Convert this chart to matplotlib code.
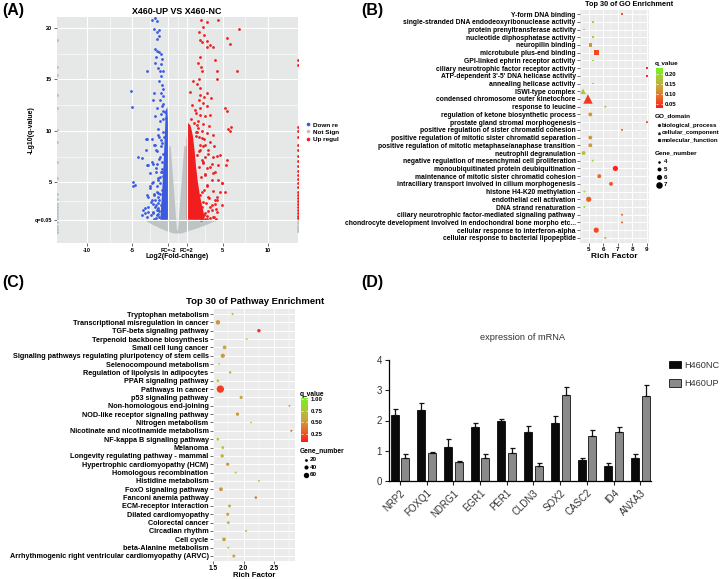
import numpy as np
import matplotlib
matplotlib.use('Agg')
import matplotlib.pyplot as plt
from matplotlib.colors import LinearSegmentedColormap, Normalize
from matplotlib.colorbar import ColorbarBase
from matplotlib.lines import Line2D

plt.rcParams['font.family'] = ['Liberation Sans', 'DejaVu Sans']

# ---------------- (A) volcano data ----------------
down_x = [-2.78, -2.49, -2.30, -2.60, -2.30, -2.01, -2.08, -2.23, -2.49, -2.30, -2.01, -1.86, -2.38, -1.75,
          -2.49, -1.79, -2.19, -1.93, -3.41, -1.64, -1.86, -2.01, -1.71, -1.64, -2.60, -5.17, -1.82, -1.57,
          -2.74, -1.93, -4.99, -1.71, -2.30, -1.57, -1.86, -2.49, -1.57, -1.93, -2.12, -3.41, -2.01, -3.48,
          -4.33, -3.96, -2.30, -3.41, -2.74, -2.01, -4.88, -4.70, -3.04, -2.38, -3.85, -3.59, -3.33, -2.85,
          -2.60, -3.22, -2.49, -2.30, -2.74, -3.04, -2.12, -2.67, -2.96, -2.30, -2.01, -2.23, -2.45, -2.67,
          -3.22, -2.12, -1.93, -1.75, -2.30, -1.86, -2.49, -1.64, -1.79,
          -1.6, -1.8, -2.0, -1.5, -1.7, -1.9, -1.6, -1.4, -1.8, -1.55, -1.7, -1.45, -2.1, -2.3, -1.95,
          -1.25, -1.4, -1.6, -2.2, -2.4, -2.6, -2.0, -1.7, -2.15,
          -3.51, -2.85, -2.56, -2.38, -2.19, -3.22, -2.78, -2.41, -1.93, -1.75, -2.19, -2.78, -3.04, -2.56,
          -3.40, -2.12, -2.89, -2.38, -3.60, -3.22, -2.67, -2.12, -3.96, -1.75, -4.90]
down_y = [20.8, 21.0, 20.7, 19.9, 19.6, 19.8, 19.2, 18.9, 18.0, 17.8, 17.7, 17.5, 17.2, 17.0,
          16.6, 16.5, 16.1, 15.8, 15.8, 15.8, 15.3, 14.8, 14.5, 14.1, 13.7, 13.9, 13.7, 13.4,
          13.0, 13.0, 12.3, 12.4, 12.2, 12.6, 11.6, 11.4, 11.9, 11.0, 10.2, 9.2, 9.4, 8.1,
          7.5, 7.4, 8.0, 6.7, 6.8, 7.3, 5.0, 4.7, 5.9, 6.0, 2.3, 2.0, 1.6, 3.3,
          3.8, 3.6, 2.6, 4.1, 5.0, 4.6, 5.2, 2.1, 1.8, 1.8, 3.3, 4.6, 3.3, 2.9,
          2.6, 2.5, 5.5, 6.3, 6.8, 8.5, 8.6, 9.9, 9.1,
          2.0, 2.8, 1.6, 3.5, 4.3, 3.9, 5.6, 6.2, 6.0, 7.8, 8.8, 9.4, 1.9, 2.3, 4.9,
          11.3, 11.8, 11.2, 3.0, 1.5, 1.45, 2.2, 7.0, 4.0,
          9.2, 9.2, 8.6, 8.1, 9.6, 6.7, 7.0, 6.35, 7.5, 6.0, 5.4, 4.9, 4.4, 3.9,
          3.8, 3.6, 3.1, 2.8, 2.5, 2.1, 2.0, 2.3, 1.8, 1.8, 4.6]

up_x = [2.56, 3.22, 4.51, 6.83, 2.85, 2.41, 2.93, 2.49, 2.67, 3.30, 3.59, 3.89, 3.22, 5.50, 5.80, 4.14,
        2.49, 2.23, 2.56, 2.71, 4.33, 6.54, 4.40, 2.41, 2.19, 2.49, 3.22, 2.49, 2.93, 3.67, 2.41, 2.78,
        3.30, 2.49, 5.25, 5.43, 2.04, 2.49, 3.04, 3.59, 2.30, 2.85, 2.12, 3.48, 5.87, 5.80, 2.67, 2.04,
        3.22, 3.96, 2.41, 2.93, 3.59, 4.70, 5.43, 5.35, 4.33, 3.41, 4.03, 3.04, 3.78, 4.88, 4.51, 3.96,
        3.22, 2.67, 2.41, 2.85,
        2.3, 2.7, 2.9, 3.1, 2.5, 2.9, 3.3, 2.6, 3.0, 2.4, 2.8, 2.2, 2.5, 2.0, 2.3, 1.8, 1.5, 1.9,
        3.5, 3.8, 3.4, 3.9, 4.2, 4.4, 2.0, 1.6, 1.4, 1.7,
        4.88, 4.69, 4.33, 4.14, 3.78, 3.22, 2.74, 4.3, 4.0, 3.6, 3.3, 3.0, 2.6,
        2.12, 2.67, 3.04, 2.49, 3.41, 3.96, 2.85, 3.59, 4.14, 3.04, 3.78, 4.51, 3.22, 3.96, 2.67, 3.41,
        2.85, 4.14, 3.59, 2.30, 3.04, 1.93, 4.33, 4.88, 5.25, 5.62]
up_y = [20.8, 20.6, 20.8, 19.9, 20.1, 19.6, 19.3, 18.8, 18.6, 18.7, 18.3, 18.2, 18.2, 19.0, 18.4, 16.9,
        17.2, 16.6, 16.2, 15.8, 15.8, 15.8, 15.0, 15.0, 14.6, 14.2, 13.7, 13.5, 13.3, 13.2, 13.0, 12.7,
        12.4, 12.2, 12.2, 11.9, 11.7, 11.5, 11.4, 11.5, 11.0, 10.7, 10.6, 10.5, 10.4, 10.0, 10.0, 9.9,
        9.8, 9.6, 9.4, 9.2, 8.9, 7.7, 7.2, 6.7, 7.6, 8.1, 8.5, 7.5, 6.8, 4.9, 5.2, 5.9,
        6.4, 7.2, 8.0, 8.5,
        2.0, 2.6, 1.8, 3.0, 3.8, 4.3, 4.6, 5.5, 5.8, 6.5, 6.9, 7.7, 8.6, 9.5, 10.3, 10.8, 11.2, 12.0,
        3.5, 2.8, 2.2, 1.6, 2.4, 3.3, 1.5, 12.5, 13.8, 14.8,
        4.9, 4.1, 3.6, 2.9, 2.3, 1.7, 1.4, 1.45, 1.6, 1.5, 1.45, 1.4, 1.35,
        9.9, 9.3, 8.6, 8.1, 7.8, 7.5, 7.0, 6.5, 6.0, 5.7, 5.2, 6.7, 4.7, 4.2, 4.1, 3.6,
        3.1, 3.3, 2.6, 2.3, 2.0, 1.7, 2.1, 2.8, 4.1, 10.2]

# genes with infinite fold change, pinned to the panel edges
edge_up_y = [16.9, 16.4, 10.4, 10.0, 9.4, 8.6, 8.1, 7.6, 7.1, 6.6, 6.1, 5.7, 5.3, 4.9, 4.5, 4.1,
             3.8, 3.5, 3.2, 2.9, 2.6, 2.3, 2.0, 1.7, 1.5]
edge_ns_right_y = [1.2, 1.0, 0.8, 0.6, 0.4, 0.3]
edge_ns_left_y = [18.8, 16.2, 15.4, 13.5, 12.2, 10.1, 8.9, 7.0, 5.4, 3.9, 3.4, 2.9, 2.6, 2.3,
                  2.0, 1.7, 1.4, 1.1, 0.8, 0.5, 0.2]

# dense clouds (outlines)
ns_cloud_x = [-1.05, -1.05, -3.6, -2.8, -2.0, -1.2, -0.4, 0.4, 1.2, 2.3, 3.3, 4.4, 1.05, 1.05,
              0.75, 0.06, -0.06, -0.75]
ns_cloud_y = [8.5, 1.3, 1.3, 0.9, 0.55, 0.25, 0.02, 0.02, 0.25, 0.55, 0.9, 1.3, 1.3, 8.5,
              8.5, 0.35, 0.35, 8.5]
down_cloud_x = [-1.05, -1.05, -1.12, -1.3, -1.4, -1.55, -1.7, -1.9]
down_cloud_y = [1.35, 10.8, 12.3, 12.0, 9.5, 6.5, 4.0, 1.35]
up_cloud_x = [1.02, 1.02, 1.15, 1.45, 1.7, 1.9, 2.05, 2.25, 2.5, 2.8, 3.0, 2.9]
up_cloud_y = [1.35, 9.2, 10.8, 10.5, 9.5, 8.0, 6.5, 5.0, 3.6, 2.4, 1.6, 1.35]

# ---------------- (B) GO enrichment ----------------
go_terms = ['Y-form DNA binding', 'single-stranded DNA endodeoxyribonuclease activity',
            'protein prenyltransferase activity', 'nucleotide diphosphatase activity',
            'neuropilin binding', 'microtubule plus-end binding', 'GPI-linked ephrin receptor activity',
            'ciliary neurotrophic factor receptor activity', "ATP-dependent 3'-5' DNA helicase activity",
            'annealing helicase activity', 'ISWI-type complex', 'condensed chromosome outer kinetochore',
            'response to leucine', 'regulation of ketone biosynthetic process',
            'prostate gland stromal morphogenesis', 'positive regulation of sister chromatid cohesion',
            'positive regulation of mitotic sister chromatid separation',
            'positive regulation of mitotic metaphase/anaphase transition', 'neutrophil degranulation',
            'negative regulation of mesenchymal cell proliferation',
            'monoubiquitinated protein deubiquitination', 'maintenance of mitotic sister chromatid cohesion',
            'intraciliary transport involved in cilium morphogenesis', 'histone H4-K20 methylation',
            'endothelial cell activation', 'DNA strand renaturation',
            'ciliary neurotrophic factor-mediated signaling pathway',
            'chondrocyte development involved in endochondral bone morpho etc...',
            'cellular response to interferon-alpha', 'cellular response to bacterial lipopeptide']
go_rich = [7.28, 5.25, 4.68, 5.25, 5.09, 5.5, 5.25, 9.0, 9.0, 5.25, 4.59, 4.93, 6.13, 5.09, 9.0,
           7.28, 5.09, 5.09, 4.63, 5.25, 6.82, 5.71, 6.52, 4.68, 4.98, 4.68, 7.28, 7.28, 5.5, 6.13]
go_q = [0.07, 0.19, 0.22, 0.19, 0.12, 0.06, 0.19, 0.04, 0.04, 0.19, 0.18, 0.05, 0.15, 0.12, 0.04,
        0.07, 0.12, 0.12, 0.17, 0.2, 0.035, 0.08, 0.07, 0.22, 0.075, 0.22, 0.08, 0.08, 0.06, 0.13]
go_genes = [3, 3, 3, 3, 5, 6, 3, 3, 3, 3, 5, 7, 3, 5, 3, 3, 5, 5, 5, 3, 6, 5, 5, 3, 6, 3, 3, 3, 6, 3]
go_domain = ['molecular_function'] * 10 + ['cellular_component'] * 2 + ['biological_process'] * 18

# ---------------- (C) KEGG pathway enrichment ----------------
kegg_terms = ['Tryptophan metabolism', 'Transcriptional misregulation in cancer', 'TGF-beta signaling pathway',
              'Terpenoid backbone biosynthesis', 'Small cell lung cancer',
              'Signaling pathways regulating pluripotency of stem cells', 'Selenocompound metabolism',
              'Regulation of lipolysis in adipocytes', 'PPAR signaling pathway', 'Pathways in cancer',
              'p53 signaling pathway', 'Non-homologous end-joining', 'NOD-like receptor signaling pathway',
              'Nitrogen metabolism', 'Nicotinate and nicotinamide metabolism', 'NF-kappa B signaling pathway',
              'Melanoma', 'Longevity regulating pathway - mammal', 'Hypertrophic cardiomyopathy (HCM)',
              'Homologous recombination', 'Histidine metabolism', 'FoxO signaling pathway',
              'Fanconi anemia pathway', 'ECM-receptor interaction', 'Dilated cardiomyopathy',
              'Colorectal cancer', 'Circadian rhythm', 'Cell cycle', 'beta-Alanine metabolism',
              'Arrhythmogenic right ventricular cardiomyopathy (ARVC)']
kegg_rich = [1.82, 1.58, 2.25, 2.05, 1.69, 1.66, 1.6, 1.78, 1.58, 1.62, 1.96, 2.75, 1.9, 2.12, 2.78,
             1.58, 1.66, 1.65, 1.74, 1.87, 2.25, 1.63, 2.2, 1.77, 1.74, 1.75, 2.04, 1.68, 1.75, 1.84]
kegg_q = [0.9, 0.5, 0.15, 0.85, 0.6, 0.52, 0.95, 0.75, 0.85, 0.2, 0.55, 0.5, 0.5, 0.9, 0.35,
          0.85, 0.75, 0.65, 0.5, 0.85, 0.75, 0.5, 0.35, 0.62, 0.58, 0.7, 0.78, 0.55, 0.85, 0.55]
kegg_genes = [10, 45, 30, 6, 35, 42, 3, 15, 18, 90, 25, 5, 27, 4, 8, 20, 20, 28, 26, 9, 6, 35, 16,
              22, 25, 20, 10, 35, 8, 22]

# ---------------- (D) qPCR ----------------
genes = ['NRP2', 'FOXQ1', 'NDRG1', 'EGR1', 'PER1', 'CLDN3', 'SOX2', 'CASC2', 'ID4', 'ANXA3']
nc_mean = [2.18, 2.34, 1.11, 1.80, 1.99, 1.63, 1.91, 0.69, 0.50, 0.75]
nc_err = [0.19, 0.24, 0.28, 0.11, 0.06, 0.19, 0.24, 0.08, 0.08, 0.13]
up_mean = [0.75, 0.91, 0.64, 0.75, 0.91, 0.50, 2.84, 1.49, 1.63, 2.81]
up_err = [0.13, 0.04, 0.02, 0.13, 0.18, 0.08, 0.26, 0.20, 0.17, 0.36]

W, H = 720, 579
fig = plt.figure(figsize=(7.2, 5.79), dpi=100)


def box(l, t, r, b):
    return [l / W, 1 - b / H, (r - l) / W, (b - t) / H]


def fx(px):
    return px / W


def fy(py):
    return 1 - py / H


cmap = LinearSegmentedColormap.from_list('q', ['#FF1A1A', '#E8642A', '#C9A23A', '#A9C83A', '#72F51E'])
bold = dict(fontweight='bold', color='black')
gg_bg = '#EBEBEB'

# ================= (A) =================
ax = fig.add_axes(box(57, 17, 298, 243))
ax.set_facecolor('#E6E8E8')
ax.set_xlim(-13.3, 13.3)
ax.set_ylim(-0.9, 21.07)
for v in [-7.5, -3, 0, 3, 7.5]:
    ax.axvline(v, color='white', lw=0.4, zorder=0)
for v in [3.15, 7.5, 12.5, 17.5]:
    ax.axhline(v, color='white', lw=0.4, zorder=0)
for v in [-10, -5, 5, 10]:
    ax.axvline(v, color='white', lw=0.8, zorder=0)
for v in [5, 10, 15, 20]:
    ax.axhline(v, color='white', lw=0.8, zorder=0)
ax.fill(ns_cloud_x, ns_cloud_y, color='#BEC3C3', lw=0, zorder=1)
ax.fill(down_cloud_x, down_cloud_y, color='#3A5BE0', lw=0, zorder=1)
ax.fill(up_cloud_x, up_cloud_y, color='#F01E1E', lw=0, zorder=1)
ax.scatter(down_x, down_y, s=4, color='#3A5BE0', lw=0, zorder=2)
ax.scatter(up_x, up_y, s=4, color='#F01E1E', lw=0, zorder=2)
ax.scatter([13.3] * len(edge_up_y), edge_up_y, s=4, color='#F01E1E', lw=0, zorder=2)
ax.scatter([13.3] * len(edge_ns_right_y), edge_ns_right_y, s=4, color='#BEC3C3', lw=0, zorder=2)
ax.scatter([-13.3] * len(edge_ns_left_y), edge_ns_left_y, s=4, color='#B8BDCC', lw=0, zorder=2)
ax.axvline(-1, color='white', lw=0.8, zorder=3)
ax.axvline(1, color='white', lw=0.8, zorder=3)
ax.axhline(-np.log10(0.05), color='white', lw=0.8, zorder=3)
ax.set_xticks([-10, -5, -1, 1, 5, 10])
ax.set_xticklabels(['-10', '-5', 'FC=-2', 'FC=2', '5', '10'], fontsize=4, **bold)
ax.set_yticks([-np.log10(0.05), 5, 10, 15, 20])
ax.set_yticklabels(['q=0.05', '5', '10', '15', '20'], fontsize=4, **bold)
ax.tick_params(length=2, width=0.5, color='#333333', pad=1.5)
for s in ax.spines.values():
    s.set_visible(False)
ax.set_xlabel('Log2(Fold-change)', fontsize=5, **bold)
ax.set_ylabel('-Lg10(q-value)', fontsize=5, **bold)
ax.xaxis.set_label_coords(0.5, -0.044)
ax.yaxis.set_label_coords(-0.091, 0.5)
fig.text(fx(177), fy(11), 'X460-UP VS X460-NC', fontsize=6.4, ha='center', va='center', **bold)
hA = [Line2D([], [], ls='', marker='o', ms=1.6, color=c) for c in ['#3A5BE0', '#BEC3C3', '#F01E1E']]
fig.legend(hA, ['Down re', 'Not Sign', 'Up regul'], loc='center left', bbox_to_anchor=(fx(302), fy(132)),
           frameon=False, prop=dict(size=4.6, weight='bold'), handlelength=0.8, handletextpad=0.4,
           labelspacing=0.25, borderpad=0)

# ================= (B) =================
norm_b = Normalize(0.028, 0.23)
ax = fig.add_axes(box(580, 9.5, 649, 242.5))
ax.set_facecolor(gg_bg)
ax.set_xlim(4.38, 9.14)
ax.set_ylim(29.6, -0.6)
ax.set_xticks([5, 6, 7, 8, 9])
ax.set_xticks([4.5, 5.5, 6.5, 7.5, 8.5], minor=True)
ax.set_yticks(range(len(go_terms)))
ax.set_yticklabels(go_terms, fontsize=4.9, **bold)
ax.tick_params(axis='x', labelsize=4.5, labelcolor='black')
ax.grid(which='major', color='white', lw=0.7)
ax.grid(which='minor', axis='x', color='white', lw=0.35)
ax.set_axisbelow(True)
ax.tick_params(which='major', length=2, width=0.5, color='#333333', pad=1.2)
ax.tick_params(which='minor', length=0)
for t in ax.get_xticklabels():
    t.set_fontweight('bold')
for s in ax.spines.values():
    s.set_visible(False)
shape_of = {'biological_process': 'o', 'cellular_component': '^', 'molecular_function': 's'}
scale_of = {'biological_process': 1.0, 'cellular_component': 1.45, 'molecular_function': 0.9}
for dom in shape_of:
    idx = [i for i, d in enumerate(go_domain) if d == dom]
    diam = np.array([max(2.0, 1.3 * go_genes[i] - 2.6) for i in idx]) * scale_of[dom]
    ax.scatter([go_rich[i] for i in idx], idx, s=(diam * 0.72) ** 2, c=[go_q[i] for i in idx],
               cmap=cmap, norm=norm_b, marker=shape_of[dom], lw=0, zorder=3, clip_on=False)
ax.set_xlabel('Rich Factor', fontsize=6, labelpad=1, **bold)
fig.text(fx(629), fy(5), 'Top 30 of GO Enrichment', fontsize=5.3, ha='center', va='center', **bold)

cax = fig.add_axes(box(655.7, 68, 663, 108))
cb = ColorbarBase(cax, cmap=cmap, norm=norm_b, ticks=[0.05, 0.10, 0.15, 0.20])
cb.outline.set_visible(False)
cax.set_yticklabels(['0.05', '0.10', '0.15', '0.20'], fontsize=4.2, **bold)
cax.tick_params(length=1.5, width=0.5, color='white', direction='in', pad=1.5, left=True)
fig.text(fx(655), fy(64), 'q_value', fontsize=4.6, ha='left', va='center', **bold)
fig.text(fx(655), fy(116), 'GO_domain', fontsize=4.6, ha='left', va='center', **bold)
for k, dom in enumerate(shape_of):
    yy = 125 + 7.6 * k
    fig.add_artist(Line2D([fx(658.5)], [fy(yy)], ls='', marker=shape_of[dom], ms=1.3, color='#222222'))
    fig.text(fx(662), fy(yy), dom, fontsize=4.4, ha='left', va='center', **bold)
fig.text(fx(655), fy(153), 'Gene_number', fontsize=4.6, ha='left', va='center', **bold)
for k, n in enumerate([4, 5, 6, 7]):
    yy = 161.5 + 7.8 * k
    fig.add_artist(Line2D([fx(659)], [fy(yy)], ls='', marker='o', ms=(1.3 * n - 2.6) * 0.72, color='black', mew=0))
    fig.text(fx(663.5), fy(yy), str(n), fontsize=4.4, ha='left', va='center', **bold)

# ================= (C) =================
norm_c = Normalize(0.084, 1.02)
ax = fig.add_axes(box(213, 309, 295, 561))
ax.set_facecolor(gg_bg)
ax.set_xlim(1.5, 2.84)
ax.set_ylim(29.6, -0.6)
ax.set_xticks([1.5, 2.0, 2.5])
ax.set_xticklabels(['1.5', '2.0', '2.5'])
ax.set_xticks([1.75, 2.25, 2.75], minor=True)
ax.set_yticks(range(len(kegg_terms)))
ax.set_yticklabels(kegg_terms, fontsize=5.25, **bold)
ax.tick_params(axis='x', labelsize=4.8)
for t in ax.get_xticklabels():
    t.set_fontweight('bold')
ax.grid(which='major', color='white', lw=0.7)
ax.grid(which='minor', axis='x', color='white', lw=0.35)
ax.set_axisbelow(True)
ax.tick_params(which='major', length=2, width=0.5, color='#333333', pad=1.2)
ax.tick_params(axis='x', pad=0.6)
ax.tick_params(which='minor', length=0)
for s in ax.spines.values():
    s.set_visible(False)
diam_c = 1.5 + 0.065 * np.array(kegg_genes)
ax.scatter(kegg_rich, range(len(kegg_terms)), s=(diam_c * 0.72) ** 2, c=kegg_q, cmap=cmap, norm=norm_c,
           lw=0, zorder=3, clip_on=False)
ax.set_xlabel('Rich Factor', fontsize=5.6, labelpad=0, **bold)
fig.text(fx(255), fy(302), 'Top 30 of Pathway Enrichment', fontsize=6.8, ha='center', va='center', **bold)

cax = fig.add_axes(box(301, 398.3, 308.3, 441.7))
cb = ColorbarBase(cax, cmap=cmap, norm=norm_c, ticks=[0.25, 0.5, 0.75, 1.0])
cb.outline.set_visible(False)
cax.set_yticklabels(['0.25', '0.50', '0.75', '1.00'], fontsize=4.4, **bold)
cax.tick_params(length=1.5, width=0.5, color='white', direction='in', pad=1.5, left=True)
fig.text(fx(300), fy(394), 'q_value', fontsize=4.8, ha='left', va='center', **bold)
fig.text(fx(300), fy(451), 'Gene_number', fontsize=4.8, ha='left', va='center', **bold)
for k, n in enumerate([20, 40, 60]):
    yy = 459.5 + 7.7 * k
    fig.add_artist(Line2D([fx(305.5)], [fy(yy)], ls='', marker='o', ms=(1.5 + 0.065 * n) * 0.72,
                          color='black', mew=0))
    fig.text(fx(310), fy(yy), str(n), fontsize=4.6, ha='left', va='center', **bold)

# ================= (D) =================
ax = fig.add_axes(box(389, 360, 651, 481))
xpos = np.arange(len(genes))
gray_txt = '#333333'
ax.bar(xpos - 0.2, nc_mean, 0.3, color='#0A0A0A', edgecolor='#0A0A0A', lw=0.6, label='H460NC')
ax.bar(xpos + 0.2, up_mean, 0.3, color='#8A8A8A', edgecolor='#111111', lw=0.6, label='H460UP')
ax.errorbar(xpos - 0.2, nc_mean, yerr=[np.zeros(len(genes)), nc_err], fmt='none', ecolor='#111111',
            elinewidth=0.9, capsize=1.8, capthick=0.9)
ax.errorbar(xpos + 0.2, up_mean, yerr=[np.zeros(len(genes)), up_err], fmt='none', ecolor='#111111',
            elinewidth=0.9, capsize=1.8, capthick=0.9)
ax.set_xlim(-0.41, 9.4)
ax.set_ylim(0, 4)
ax.set_yticks([0, 1, 2, 3, 4])
ax.set_xticks(xpos)
ax.set_xticklabels(genes, rotation=45, ha='right', rotation_mode='anchor', fontsize=7, color=gray_txt)
ax.tick_params(axis='y', labelsize=7, labelcolor=gray_txt)
ax.tick_params(length=3, width=0.8, color='#222222', pad=2)
ax.spines['top'].set_visible(False)
ax.spines['right'].set_visible(False)
ax.spines['left'].set_linewidth(0.9)
ax.spines['bottom'].set_linewidth(0.9)
fig.text(fx(522), fy(338), 'expression of mRNA', fontsize=6.7, ha='center', va='center', color=gray_txt)
ax.legend(loc='upper left', bbox_to_anchor=(fx(664), fy(356)), bbox_transform=fig.transFigure,
          frameon=False, fontsize=6.6, labelcolor=gray_txt, handlelength=1.4, handleheight=0.9,
          handletextpad=0.35, labelspacing=1.05, borderpad=0)

# panel letters
for lab, px, py in [('(A)', 2, 10), ('(B)', 361, 10), ('(C)', 2, 282), ('(D)', 361, 282)]:
    fig.text(fx(px), fy(py), lab, fontsize=11.5, ha='left', va='center', **bold)

fig.savefig('out.png', dpi=100)
